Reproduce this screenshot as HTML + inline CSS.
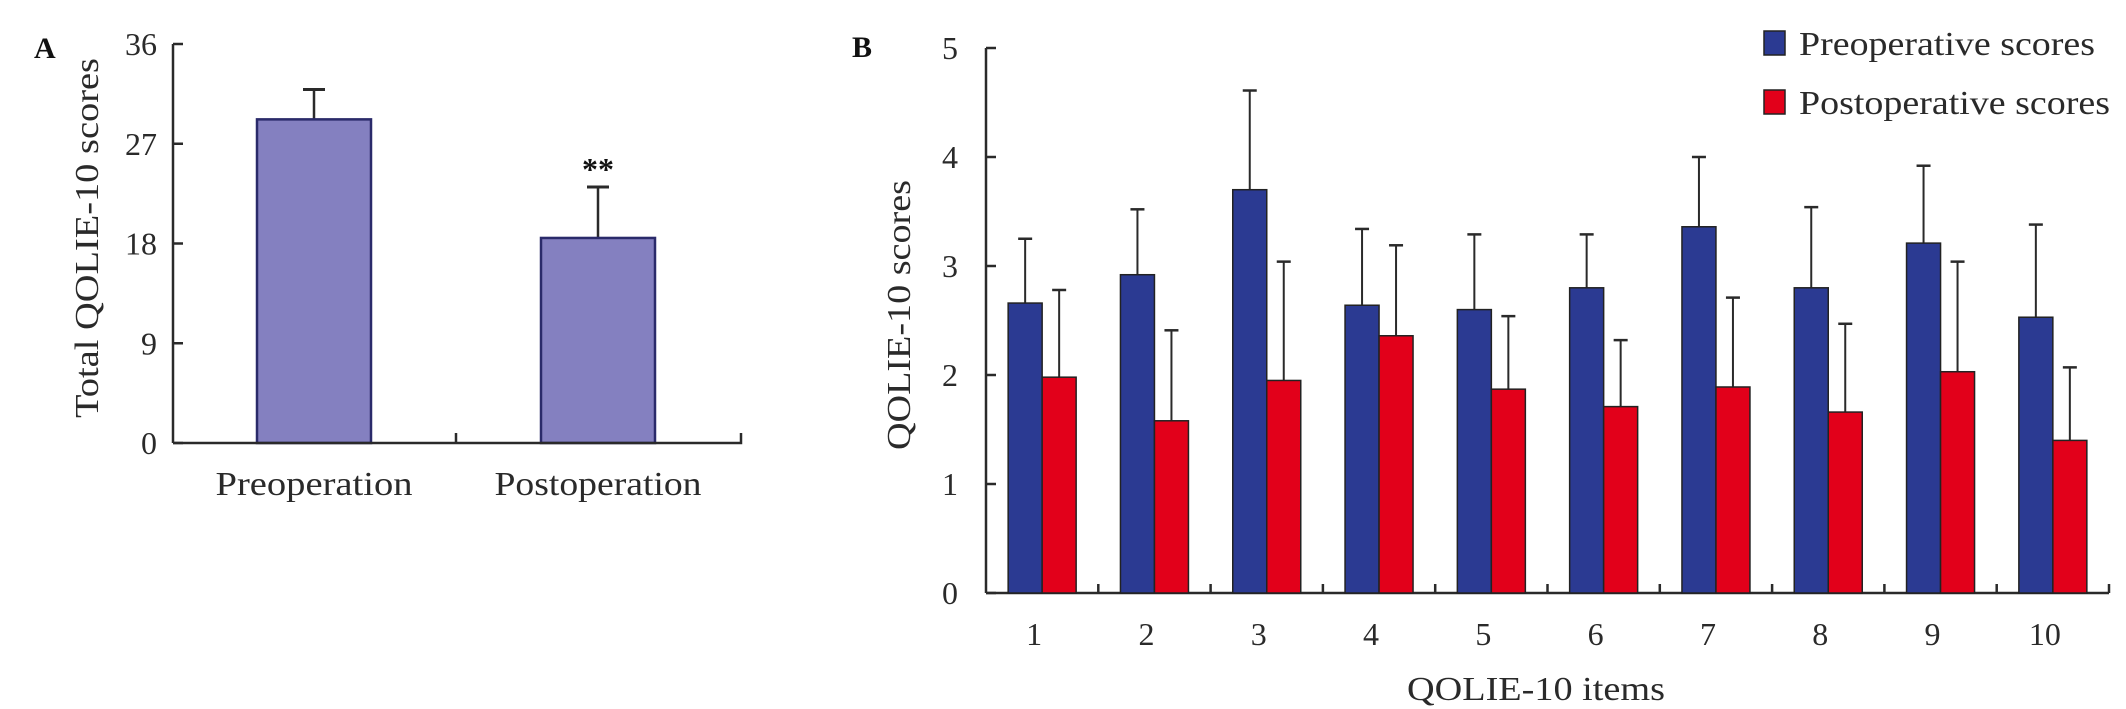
<!DOCTYPE html>
<html><head><meta charset="utf-8"><style>
html,body{margin:0;padding:0;background:#fff;}
svg{display:block;font-family:"Liberation Serif",serif;}
</style></head><body>
<svg id="chart" width="2126" height="709" viewBox="0 0 2126 709" xmlns="http://www.w3.org/2000/svg">
<g id="panelA"></g>
<g id="panelB"></g>
</svg>
<script>
// Panel A data
const aCategories = ["Preoperation", "Postoperation"];
const aValues = [29.2, 18.5];
const aErrors = [31.9, 23.1];
const aTicks = [0, 9, 18, 27, 36];
// Panel B data
const bCategories = ["1","2","3","4","5","6","7","8","9","10"];
const bPre = [2.66, 2.92, 3.70, 2.64, 2.60, 2.80, 3.36, 2.80, 3.21, 2.53];
const bPreErr = [3.25, 3.52, 4.61, 3.34, 3.29, 3.29, 4.00, 3.54, 3.92, 3.38];
const bPost = [1.98, 1.58, 1.95, 2.36, 1.87, 1.71, 1.89, 1.66, 2.03, 1.40];
const bPostErr = [2.78, 2.41, 3.04, 3.19, 2.54, 2.32, 2.71, 2.47, 3.04, 2.07];
const bTicks = [0, 1, 2, 3, 4, 5];

const NS = "http://www.w3.org/2000/svg";
function mk(parent, tag, attrs, text){
  const e = document.createElementNS(NS, tag);
  for (const k in attrs) e.setAttribute(k, attrs[k]);
  if (text !== undefined) e.textContent = text;
  parent.appendChild(e);
  return e;
}
const ink = "#2a2a2a";

// ---------- Panel A ----------
(function(){
  const g = document.getElementById('panelA');
  const x0 = 173, x1 = 741, y0 = 443, yTop = 44, vmax = 36;
  const y = v => y0 - (v / vmax) * (y0 - yTop);
  const centers = [314, 598];
  const bw = 114;
  let t = mk(g, 'text', {x: 34, y: 58, 'font-size': 30, 'font-weight': 'bold', fill: '#111'}, 'A');
  
  
  let ax = mk(g, 'line', {x1: x0, y1: yTop, x2: x0, y2: y0, stroke: ink, 'stroke-width': 2.5});
  
  
  aTicks.forEach(v => {
    const tk = mk(g, 'line', {x1: x0, y1: y(v), x2: x0 + 10, y2: y(v), stroke: ink, 'stroke-width': 2.5});
    
    
    const tl = mk(g, 'text', {x: 157, y: y(v) + 11, 'font-size': 32, 'text-anchor': 'end', fill: ink}, String(v));
    
    
  });
  aValues.forEach((v, i) => {
    const c = centers[i];
    const el = mk(g, 'line', {x1: c, y1: y(aErrors[i]), x2: c, y2: y(v), stroke: ink, 'stroke-width': 2.5});
    
    
    const cap = mk(g, 'line', {x1: c - 11, y1: y(aErrors[i]), x2: c + 11, y2: y(aErrors[i]), stroke: ink, 'stroke-width': 3});
    
    
    const r = mk(g, 'rect', {x: c - bw/2, y: y(v), width: bw, height: y0 - y(v), fill: '#8480c0', stroke: '#2a2a6a', 'stroke-width': 2.5});
    
    
    const lb = mk(g, 'text', {x: c, y: 495, 'font-size': 34, 'text-anchor': 'middle', fill: ink, textLength: i ? 207 : 197, lengthAdjust: 'spacingAndGlyphs'}, aCategories[i]);
    
    
  });
  let xa = mk(g, 'path', {d: `M${x0} ${y0} H${x1} V${y0-10} M456 ${y0} V${y0-10}`, stroke: ink, 'stroke-width': 2.5, fill: 'none'});
  
  
  let st = mk(g, 'text', {x: centers[1], y: 180, 'font-size': 32, 'font-weight': 'bold', 'text-anchor': 'middle', fill: '#111'}, '**');
  
  
  let yl = mk(g, 'text', {x: 0, y: 0, 'font-size': 34, 'text-anchor': 'middle', fill: ink, transform: 'translate(98,238) rotate(-90)', textLength: 360, lengthAdjust: 'spacingAndGlyphs'}, 'Total QOLIE-10 scores');
  
  
})();

// ---------- Panel B ----------
(function(){
  const g = document.getElementById('panelB');
  const x0 = 986, x1 = 2109, y0 = 593, yTop = 48, vmax = 5;
  const y = v => y0 - (v / vmax) * (y0 - yTop);
  const gw = (x1 - x0) / bCategories.length;
  const bw = 34;
  let t = mk(g, 'text', {x: 852, y: 57, 'font-size': 30, 'font-weight': 'bold', fill: '#111'}, 'B');
  
  
  let ax = mk(g, 'line', {x1: x0, y1: yTop, x2: x0, y2: y0, stroke: ink, 'stroke-width': 2.5});
  
  
  bTicks.forEach(v => {
    const tk = mk(g, 'line', {x1: x0, y1: y(v), x2: x0 + 10, y2: y(v), stroke: ink, 'stroke-width': 2.5});
    
    
    const tl = mk(g, 'text', {x: 958, y: y(v) + 11, 'font-size': 32, 'text-anchor': 'end', fill: ink}, String(v));
    
    
  });
  let d = `M${x0} ${y0} H${x1}`;
  bCategories.forEach((c, i) => { const gx = x0 + gw * (i + 1); d += ` M${gx} ${y0} V${y0 - 9}`; });
  let xa = mk(g, 'path', {d: d, stroke: ink, 'stroke-width': 2.5, fill: 'none'});
  
  
  function bar(cx, v, e, fill, name){
    const el = mk(g, 'line', {x1: cx, y1: y(e), x2: cx, y2: y(v), stroke: ink, 'stroke-width': 2});
    
    
    const cap = mk(g, 'line', {x1: cx - 7, y1: y(e), x2: cx + 7, y2: y(e), stroke: ink, 'stroke-width': 2.5});
    
    
    const r = mk(g, 'rect', {x: cx - bw/2, y: y(v), width: bw, height: y0 - y(v), fill: fill, stroke: '#222', 'stroke-width': 1.5});
    
    
  }
  bCategories.forEach((c, i) => {
    const gc = x0 + gw * (i + 0.5);
    bar(gc - bw/2, bPre[i], bPreErr[i], '#2b3a92', 'bar-pre-' + c);
    bar(gc + bw/2, bPost[i], bPostErr[i], '#e2001a', 'bar-post-' + c);
    const lb = mk(g, 'text', {x: gc - 8, y: 645, 'font-size': 32, 'text-anchor': 'middle', fill: ink}, c);
    
    
  });
  let xt = mk(g, 'text', {x: 1536, y: 700, 'font-size': 34, 'text-anchor': 'middle', fill: ink, textLength: 258, lengthAdjust: 'spacingAndGlyphs'}, 'QOLIE-10 items');
  
  
  let yl = mk(g, 'text', {x: 0, y: 0, 'font-size': 34, 'text-anchor': 'middle', fill: ink, transform: 'translate(910,315) rotate(-90)', textLength: 270, lengthAdjust: 'spacingAndGlyphs'}, 'QOLIE-10 scores');
  
  
  const leg = [['Preoperative scores', '#2b3a92', 31, 296], ['Postoperative scores', '#e2001a', 90, 311]];
  leg.forEach(l => {
    const sw = mk(g, 'rect', {x: 1764, y: l[2], width: 21, height: 24, fill: l[1], stroke: '#222', 'stroke-width': 1.5});
    
    
    const lt = mk(g, 'text', {x: 1799, y: l[2] + 24, 'font-size': 34, fill: ink, textLength: l[3], lengthAdjust: 'spacingAndGlyphs'}, l[0]);
    
    
  });
})();
</script>
</body></html>
